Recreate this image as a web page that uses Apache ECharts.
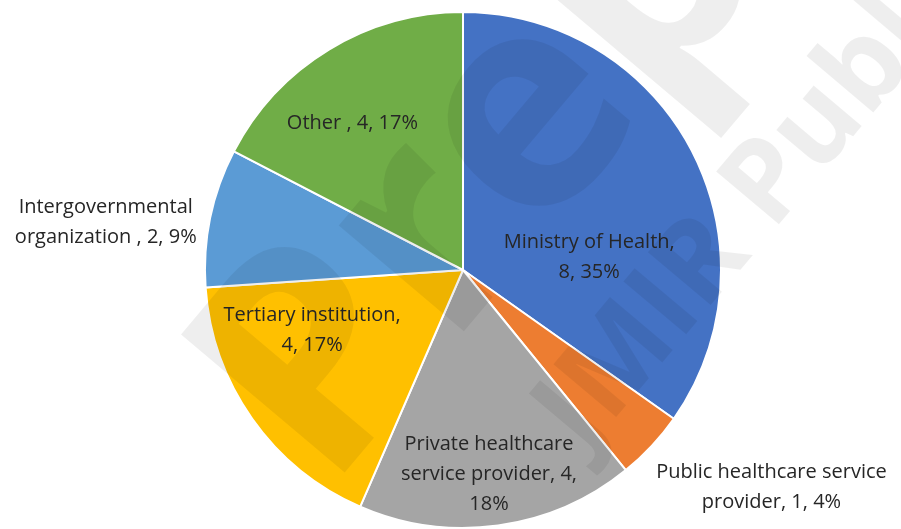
<!DOCTYPE html>
<html>
<head>
<meta charset="utf-8">
<script src="https://cdn.jsdelivr.net/npm/echarts@6/dist/echarts.min.js"></script>
<style>
  html, body { margin: 0; padding: 0; background: #fff; }
  #chart { width: 901px; height: 529px; }
</style>
</head>
<body>
<div id="chart"></div>
<script>
const names = ['Ministry of Health', 'Public healthcare service provider', 'Private healthcare service provider', 'Tertiary institution', 'Intergovernmental organization ', 'Other ']
const counts = [8, 1, 4, 4, 2, 4]
const percents = [35, 4, 18, 17, 9, 17]
const colors = ['#4472C4', '#ED7D31', '#A5A5A5', '#FFC000', '#5B9BD5', '#70AD47']

// label tweaks: max characters per line and shift from the default inside spot
const wrapChars = [20, 26, 20, 22, 20, 20]
const labelShift = [[9, 48], [212, 127], [8, 74], [-43, -16], [-228, -21], [-42, -34]]

// greedy word wrap so the lines break where the original ones do
const wrap = (text, max) => {
  const lines = []
  let cur = ''
  text.split(' ').forEach(w => {
    const next = cur ? cur + ' ' + w : w
    if (next.length > max && cur) {
      lines.push(cur)
      cur = w
    } else {
      cur = next
    }
  })
  lines.push(cur)
  return lines.join('\n')
}

const chart = echarts.init(document.getElementById('chart'))

chart.setOption({
  animation: false,
  series: [{
    type: 'pie',
    center: [463, 270],
    radius: [0, 258],
    startAngle: 90,
    clockwise: true,
    itemStyle: { borderColor: '#fff', borderWidth: 2 },
    label: {
      position: 'inside',
      color: '#262626',
      fontFamily: 'Open Sans',
      fontSize: 20,
      lineHeight: 30,
      align: 'center',
      formatter: p => wrap(`${p.name}, ${p.value}, ${percents[p.dataIndex]}%`, wrapChars[p.dataIndex])
    },
    labelLine: { show: false },
    labelLayout: p => ({ dx: labelShift[p.dataIndex][0], dy: labelShift[p.dataIndex][1] }),
    data: names.map((n, i) => ({
      name: n,
      value: counts[i],
      itemStyle: { color: colors[i] }
    }))
  }],
  // faint watermark over the chart
  graphic: [
    {
      type: 'text', z: 100, x: 262, y: 438, rotation: 0.87,
      style: { text: 'Preprint', font: 'bold 300px "Open Sans"', fill: 'rgba(0,0,0,0.065)', textVerticalAlign: 'middle' }
    },
    {
      type: 'text', z: 100, x: 560, y: 433, rotation: 0.87,
      style: { text: 'JMIR Publications', font: 'bold 115px "Open Sans"', fill: 'rgba(0,0,0,0.065)', textVerticalAlign: 'middle' }
    }
  ]
})
</script>
</body>
</html>
